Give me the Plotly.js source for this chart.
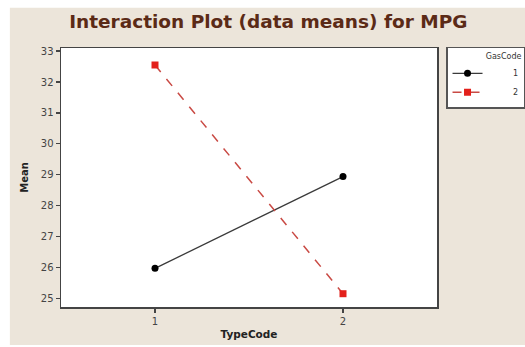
<!DOCTYPE html>
<html>
<head>
<meta charset="utf-8">
<script src="https://cdn.plot.ly/plotly-3.0.1.min.js"></script>
<style>html,body{margin:0;padding:0;background:#fff;}#chart{width:525px;height:347px;}</style>
</head>
<body>
<div id="chart"></div>
<script>
const typeCodes = [1, 2];
const gasCode1Means = [25.97, 28.94];
const gasCode2Means = [32.55, 25.15];
const seriesNames = ["1", "2"];
const yTicks = [25, 26, 27, 28, 29, 30, 31, 32, 33];

const pad = "\u2007\u2007\u2007\u2007\u2007";

const traces = [
  {
    x: typeCodes, y: gasCode1Means, name: pad + seriesNames[0],
    type: "scatter", mode: "lines+markers",
    line: {color: "#3a3a3a", width: 1.3},
    marker: {color: "#000", symbol: "circle", size: 7}
  },
  {
    x: typeCodes, y: gasCode2Means, name: pad + seriesNames[1],
    type: "scatter", mode: "lines+markers",
    line: {color: "#c94a44", width: 1.5, dash: "dash"},
    marker: {color: "#e3201b", symbol: "square", size: 7}
  }
];

const layout = {
  width: 525, height: 347,
  margin: {l: 61, r: 88, t: 48, b: 40, pad: 0, autoexpand: false},
  paper_bgcolor: "#ffffff",
  plot_bgcolor: "#ffffff",
  font: {family: "DejaVu Sans, sans-serif", color: "#333"},
  title: {
    text: "<b>Interaction Plot (data means) for MPG</b>",
    font: {family: "DejaVu Sans, sans-serif", size: 18.5, color: "#5b2a16"},
    x: 0.511, xanchor: "center", y: 0.937, yanchor: "middle"
  },
  shapes: [
    {type: "rect", xref: "paper", yref: "paper", layer: "below",
     x0: -0.136, x1: 1.25, y0: -0.147, y1: 1.155,
     fillcolor: "#ece5da", line: {width: 0}},
    {type: "rect", xref: "paper", yref: "paper", layer: "below",
     x0: 0, x1: 1, y0: 0, y1: 1,
     fillcolor: "#ffffff", line: {width: 0}}
  ],
  xaxis: {
    range: [0.5, 2.5],
    tickvals: typeCodes, ticktext: typeCodes.map(String),
    ticks: "outside", ticklen: 4, tickwidth: 1.2, tickcolor: "#444",
    showline: true, linecolor: "#444", linewidth: 1.5, mirror: true,
    showgrid: false, zeroline: false,
    tickfont: {size: 10, color: "#444"},
    title: {text: "<b>TypeCode</b>", font: {size: 10.5, color: "#222"}, standoff: 5}
  },
  yaxis: {
    range: [24.72, 33.1],
    tickvals: yTicks, ticktext: yTicks.map(String),
    ticks: "outside", ticklen: 4, tickwidth: 1.2, tickcolor: "#444",
    showline: true, linecolor: "#444", linewidth: 1.5, mirror: true,
    showgrid: false, zeroline: false,
    tickfont: {size: 10, color: "#444"},
    title: {text: "<b>Mean</b>", font: {size: 10, color: "#222"}, standoff: 10}
  },
  showlegend: true,
  legend: {
    x: 1.024, xanchor: "left", y: 1.004, yanchor: "top",
    bgcolor: "#ffffff", bordercolor: "#555", borderwidth: 1.5,
    font: {size: 8, color: "#333"},
    title: {text: "GasCode", side: "top right", font: {size: 8, color: "#333"}},
    tracegroupgap: 0, itemwidth: 30
  }
};

Plotly.newPlot("chart", traces, layout, {displayModeBar: false, staticPlot: true});
</script>
</body>
</html>
